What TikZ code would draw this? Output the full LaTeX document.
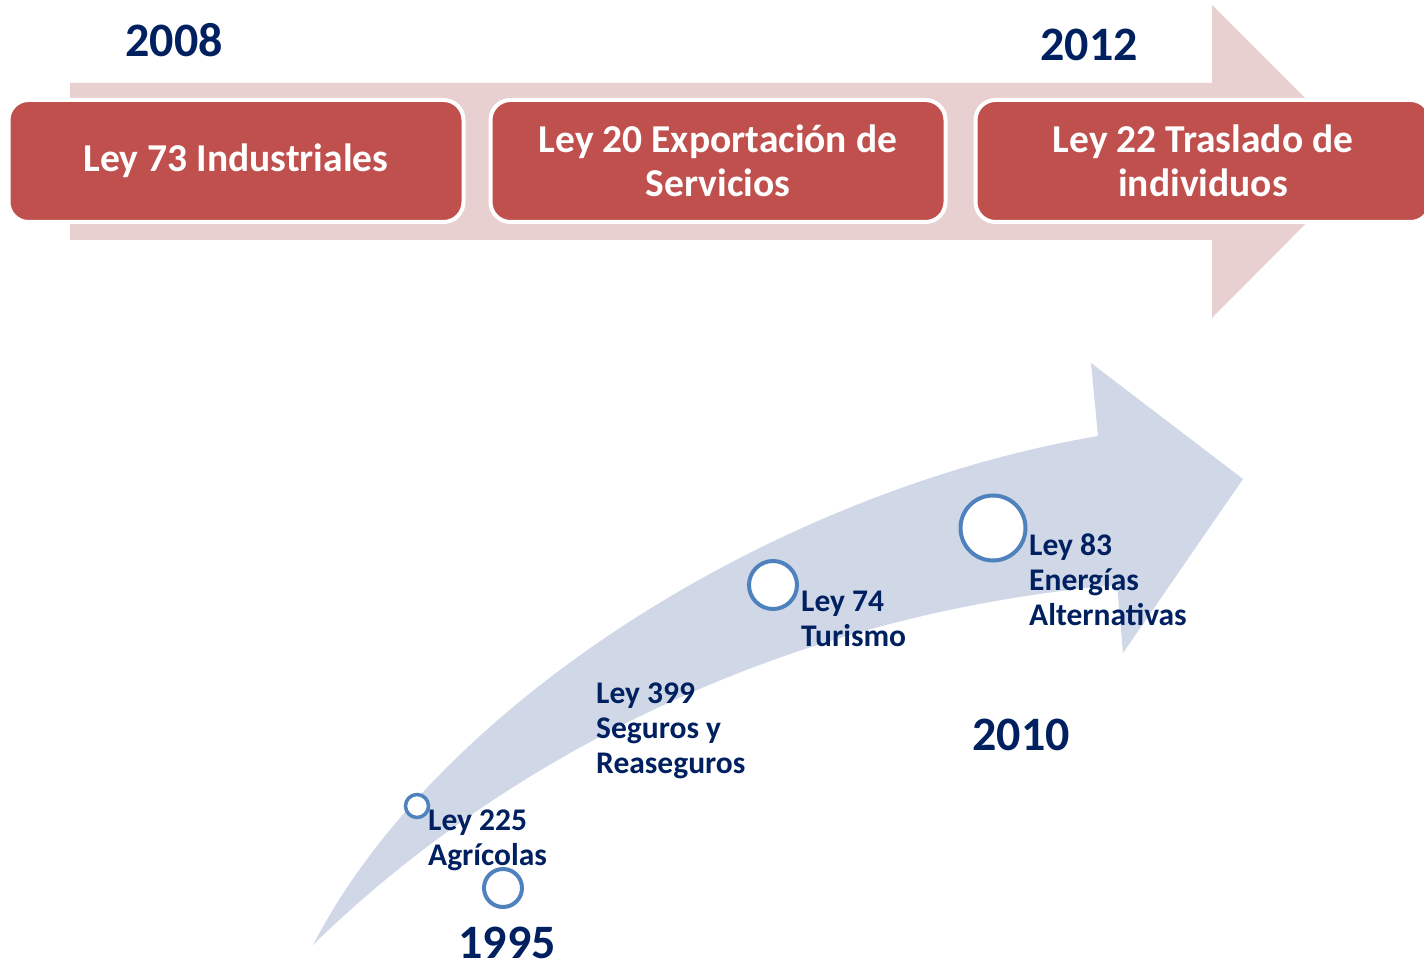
\documentclass[tikz,border=0pt]{standalone}
\usepackage{fontspec}
\setmainfont{Carlito}
\definecolor{rojoley}{HTML}{C0504D}
\definecolor{rosaflecha}{HTML}{E8D0D1}
\definecolor{azulflecha}{HTML}{D0D8E8}
\definecolor{azulanillo}{HTML}{4F81BD}
\definecolor{azulosc}{HTML}{002060}
\tikzset{
  caja/.style={draw=white, line width=4pt, fill=rojoley, rounded corners=20pt,
    minimum width=455pt, minimum height=122pt, text=white, align=center,
    font=\fontsize{39.5}{44}\selectfont\bfseries},
  anio/.style={text=azulosc, inner sep=0pt, font=\fontsize{48}{52}\selectfont\bfseries},
  etiq/.style={text=azulosc, inner sep=0pt, align=left, anchor=west,
    font=\fontsize{31.5}{35}\selectfont\bfseries},
  anillo/.style={circle, draw=azulanillo, fill=white, inner sep=0pt}
}
\begin{document}
\begin{tikzpicture}[x=1pt, y=-1pt]
  \useasboundingbox (0,0) rectangle (1424,968);

  % Flecha superior
  \fill[rosaflecha] (70,83) -- (1212,83) -- (1212,5) -- (1368,161)
    -- (1212,318) -- (1212,240) -- (70,240) -- cycle;

  % Cajas de leyes
  \node[caja] (ley73) at (236,161) {Ley 73 Industriales};
  \node[caja] (ley20) at (718,161) {Ley 20 Exportaci\'on de\\Servicios};
  \node[caja] (ley22) at (1203,161) {Ley 22 Traslado de\\individuos};

  \node[anio] (a2008) at (174,40) {2008};
  \node[anio] (a2012) at (1089,45) {2012};

  % Flecha curva
  \fill[azulflecha] (313,945) .. controls (440,700) and (780,490) .. (1098,436)
    -- (1091,363) -- (1243,479) -- (1123,653) -- (1117,585)
    .. controls (720,620) and (450,810) .. (313,945) -- cycle;

  % Anillos
  \node[anillo, line width=3.5pt, minimum size=23pt] (c225) at (417,806) {};
  \node[anillo, line width=4pt, minimum size=38pt] (c1995) at (503,888) {};
  \node[anillo, line width=4pt, minimum size=48pt] (c74) at (773,585) {};
  \node[anillo, line width=4pt, minimum size=65pt] (c83) at (993,528) {};

  % Etiquetas
  \node[etiq] (t225) at (428,840) {Ley 225\\Agr\'icolas};
  \node[etiq] (t399) at (596,731) {Ley 399\\Seguros y\\Reaseguros};
  \node[etiq] (t74) at (801,619) {Ley 74\\Turismo};
  \node[etiq] (t83) at (1029,580) {Ley 83\\Energ\'ias\\Alternativas};

  \node[anio] (a2010) at (1021,735) {2010};
  \node[anio] (a1995) at (507,943) {1995};
\end{tikzpicture}
\end{document}
